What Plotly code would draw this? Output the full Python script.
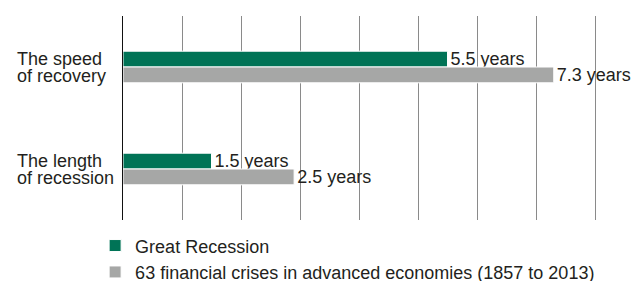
import plotly.graph_objects as go

# ---- data ----
categories = ["The speed of recovery", "The length of recession"]
category_lines = [["The speed", "of recovery"], ["The length", "of recession"]]
series_names = ["Great Recession", "63 financial crises in advanced economies (1857 to 2013)"]
# bar lengths as drawn in the picture
great_recession = [5.5, 1.5]
financial_crises = [7.3, 2.9]
# value labels as printed in the picture
great_recession_labels = ["5.5 years", "1.5 years"]
financial_crises_labels = ["7.3 years", "2.5 years"]
x_ticks = [0, 1, 2, 3, 4, 5, 6, 7, 8]

GREEN = "#007356"
GRAY = "#a6a7a6"
TEXT = "#231f20"
FONT = "Liberation Sans, Arial, sans-serif"
FS = 18

fig = go.Figure()
for name, vals, labels, col in [
        (series_names[0], great_recession, great_recession_labels, GREEN),
        (series_names[1], financial_crises, financial_crises_labels, GRAY)]:
    fig.add_trace(go.Bar(
        name=name, y=categories, x=vals, orientation="h",
        marker=dict(color=col, line=dict(color="white", width=1)),
        text=labels, texttemplate="%{text}", textposition="outside",
        textfont=dict(family=FONT, size=FS, color=TEXT),
        constraintext="none", cliponaxis=False,
    ))

# two-line category labels (left aligned)
for cat, lines in zip(categories, category_lines):
    for i, ln in enumerate(lines):
        fig.add_annotation(
            x=0, xref="paper", y=cat, yref="y", text=ln, showarrow=False,
            xanchor="left", yanchor="middle", align="left", xshift=-108,
            yshift=8.5 - 17 * i,
            font=dict(family=FONT, size=FS, color=TEXT),
        )

# page body has an 8px margin: figure is sized/offset to compensate
fig.update_layout(
    width=633, height=273,
    margin=dict(l=115, r=43, t=8, b=61, autoexpand=False),
    paper_bgcolor="white", plot_bgcolor="white",
    barmode="group", bargap=0.69, bargroupgap=0.0,
    font=dict(family=FONT, size=FS, color=TEXT),
    showlegend=True,
    legend=dict(
        orientation="v", x=-0.0587, xanchor="left", y=-0.036, yanchor="top",
        font=dict(family=FONT, size=FS, color=TEXT),
        traceorder="normal", itemwidth=30, tracegroupgap=0,
        bgcolor="rgba(0,0,0,0)",
    ),
)
fig.update_xaxes(
    range=[0, 8.05], tickvals=x_ticks, showticklabels=False,
    showgrid=True, gridcolor="#8a8a8a", gridwidth=1,
    zeroline=False, showline=False, fixedrange=True,
)
fig.update_yaxes(
    categoryorder="array", categoryarray=categories, autorange="reversed",
    showticklabels=False, showgrid=False, zeroline=False,
    showline=True, linecolor="#111111", linewidth=1, ticks="",
)

fig.write_html("out.html")
